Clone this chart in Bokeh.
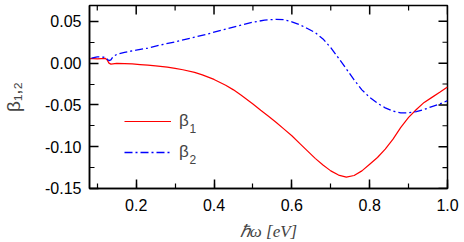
import math
from bokeh.plotting import figure
from bokeh.models import (SingleIntervalTicker, NumeralTickFormatter,
                          Legend, LegendItem, Label, Range1d)
from bokeh.embed import file_html
from bokeh.resources import INLINE

# ---- data ----
x_b1 = [0.08, 0.09, 0.10, 0.11, 0.12, 0.125, 0.13, 0.135, 0.14, 0.15, 0.17, 0.19,
        0.21, 0.23, 0.25, 0.28, 0.30, 0.32, 0.35, 0.37, 0.40, 0.43, 0.45, 0.47,
        0.50, 0.52, 0.54, 0.56, 0.58, 0.60, 0.62, 0.64, 0.66, 0.68, 0.70, 0.72,
        0.74, 0.76, 0.78, 0.80, 0.82, 0.84, 0.86, 0.88, 0.90, 0.92, 0.94, 0.96,
        0.98, 1.00]
beta1 = [0.0055, 0.0055, 0.0050, 0.0055, 0.0058, 0.0040, 0.0000, -0.0012, -0.0008,
         -0.0004, -0.0006, -0.0010, -0.0017, -0.0024, -0.0033, -0.0048, -0.0062,
         -0.0079, -0.0110, -0.0140, -0.0195, -0.0265, -0.0320, -0.0385, -0.0490,
         -0.0565, -0.0635, -0.0710, -0.0790, -0.0870, -0.0960, -0.1050, -0.1140,
         -0.1220, -0.1290, -0.1340, -0.1365, -0.1345, -0.1290, -0.1210, -0.1130,
         -0.1030, -0.0910, -0.0770, -0.0650, -0.0555, -0.0470, -0.0410, -0.0350,
         -0.0285]

x_b2 = [0.085, 0.10, 0.12, 0.125, 0.13, 0.135, 0.14, 0.15, 0.17, 0.20, 0.23, 0.26,
        0.30, 0.34, 0.38, 0.42, 0.46, 0.50, 0.53, 0.56, 0.58, 0.60, 0.62, 0.64,
        0.66, 0.68, 0.70, 0.72, 0.74, 0.76, 0.78, 0.80, 0.82, 0.84, 0.86, 0.88,
        0.90, 0.92, 0.94, 0.96, 0.98, 1.00]
beta2 = [0.0060, 0.0075, 0.0070, 0.0050, 0.0030, 0.0040, 0.0075, 0.0105, 0.0130,
         0.0155, 0.0180, 0.0215, 0.0255, 0.0300, 0.0345, 0.0395, 0.0445, 0.0490,
         0.0515, 0.0525, 0.0520, 0.0495, 0.0460, 0.0415, 0.0365, 0.0290, 0.0185,
         0.0060, -0.0070, -0.0200, -0.0320, -0.0410, -0.0480, -0.0535, -0.0575,
         -0.0595, -0.0595, -0.0580, -0.0555, -0.0520, -0.0490, -0.0450]

x_major = 0.2
y_major = 0.05
x_major_ticks = [0.2, 0.4, 0.6, 0.8, 1.0]
x_minor_ticks = [0.1, 0.3, 0.5, 0.7, 0.9]
y_major_ticks = [-0.15, -0.10, -0.05, 0.00, 0.05]
y_minor_ticks = [-0.125, -0.075, -0.025, 0.025]
legend_labels = ["β", "β"]
legend_subs = ["1", "2"]
x_label = "ℏω [eV]"
y_label = "β₁,₂"
x_lo, x_hi = 0.08, 1.0
y_lo, y_hi = -0.1501, 0.069

FONT = "Liberation Sans"

p = figure(frame_width=358, frame_height=183, output_backend="svg",
           toolbar_location=None, x_range=Range1d(x_lo, x_hi),
           y_range=Range1d(y_lo, y_hi),
           min_border_left=88, min_border_right=18, min_border_top=5,
           min_border_bottom=54)
p.grid.visible = False
p.outline_line_color = "black"
p.outline_line_width = 1.5
p.background_fill_color = "white"
p.border_fill_color = "white"

r1 = p.line(x_b1, beta1, line_color="#ff0000", line_width=1.2)
r2 = p.line(x_b2, beta2, line_color="#0000ff", line_width=1.3, line_dash="8 3 2 3")

for ax in (p.xaxis[0], p.yaxis[0]):
    ax.major_tick_in = 9
    ax.major_tick_out = 0
    ax.minor_tick_in = 5
    ax.minor_tick_out = 0
    ax.axis_line_width = 1.5
    ax.axis_line_color = "black"
    ax.major_tick_line_width = 1.5
    ax.minor_tick_line_width = 1.2
    ax.major_tick_line_color = "black"
    ax.minor_tick_line_color = "black"
    ax.major_label_text_font = FONT
    ax.major_label_text_font_size = "16px"
    ax.major_label_text_color = "black"

p.xaxis.ticker = SingleIntervalTicker(interval=x_major, num_minor_ticks=2)
p.yaxis.ticker = SingleIntervalTicker(interval=y_major, num_minor_ticks=2)
p.xaxis.formatter = NumeralTickFormatter(format="0.0")
p.yaxis.formatter = NumeralTickFormatter(format="0.00")
p.xaxis.major_label_standoff = 10
p.yaxis.major_label_standoff = 8

p.xaxis.axis_label = x_label
p.xaxis.axis_label_text_font = "Liberation Serif"
p.xaxis.axis_label_text_font_style = "italic"
p.xaxis.axis_label_text_font_size = "17px"
p.xaxis.axis_label_standoff = 8

p.yaxis.axis_label = y_label
p.yaxis.axis_label_text_font = FONT
p.yaxis.axis_label_text_font_style = "normal"
p.yaxis.axis_label_text_font_size = "19px"
p.yaxis.axis_label_standoff = 18

# mirrored inward ticks on the top and right frame edges
TC = "black"
p.ray(x=x_major_ticks, y=[y_hi] * len(x_major_ticks), length=9, length_units="screen",
      angle=-math.pi / 2, line_color=TC, line_width=1.5)
p.ray(x=x_minor_ticks, y=[y_hi] * len(x_minor_ticks), length=5, length_units="screen",
      angle=-math.pi / 2, line_color=TC, line_width=1.2)
p.ray(x=[x_hi] * len(y_major_ticks), y=y_major_ticks, length=9, length_units="screen",
      angle=math.pi, line_color=TC, line_width=1.5)
p.ray(x=[x_hi] * len(y_minor_ticks), y=y_minor_ticks, length=5, length_units="screen",
      angle=math.pi, line_color=TC, line_width=1.2)

legend = Legend(items=[LegendItem(label=legend_labels[0], renderers=[r1]),
                       LegendItem(label=legend_labels[1], renderers=[r2])],
                location=(35, 26), border_line_color=None,
                background_fill_alpha=0, padding=0, margin=0,
                glyph_width=47, glyph_height=20, label_height=20,
                label_standoff=8, spacing=11,
                label_text_font=FONT, label_text_font_size="17px")
p.add_layout(legend, "center")

for sub, yy in zip(legend_subs, [60, 29]):
    p.add_layout(Label(x=100, y=yy, x_units="screen", y_units="screen", text=sub,
                       text_font=FONT, text_font_size="12px",
                       text_align="left", text_baseline="middle"))

open("out.html", "w").write(file_html(p, INLINE))
